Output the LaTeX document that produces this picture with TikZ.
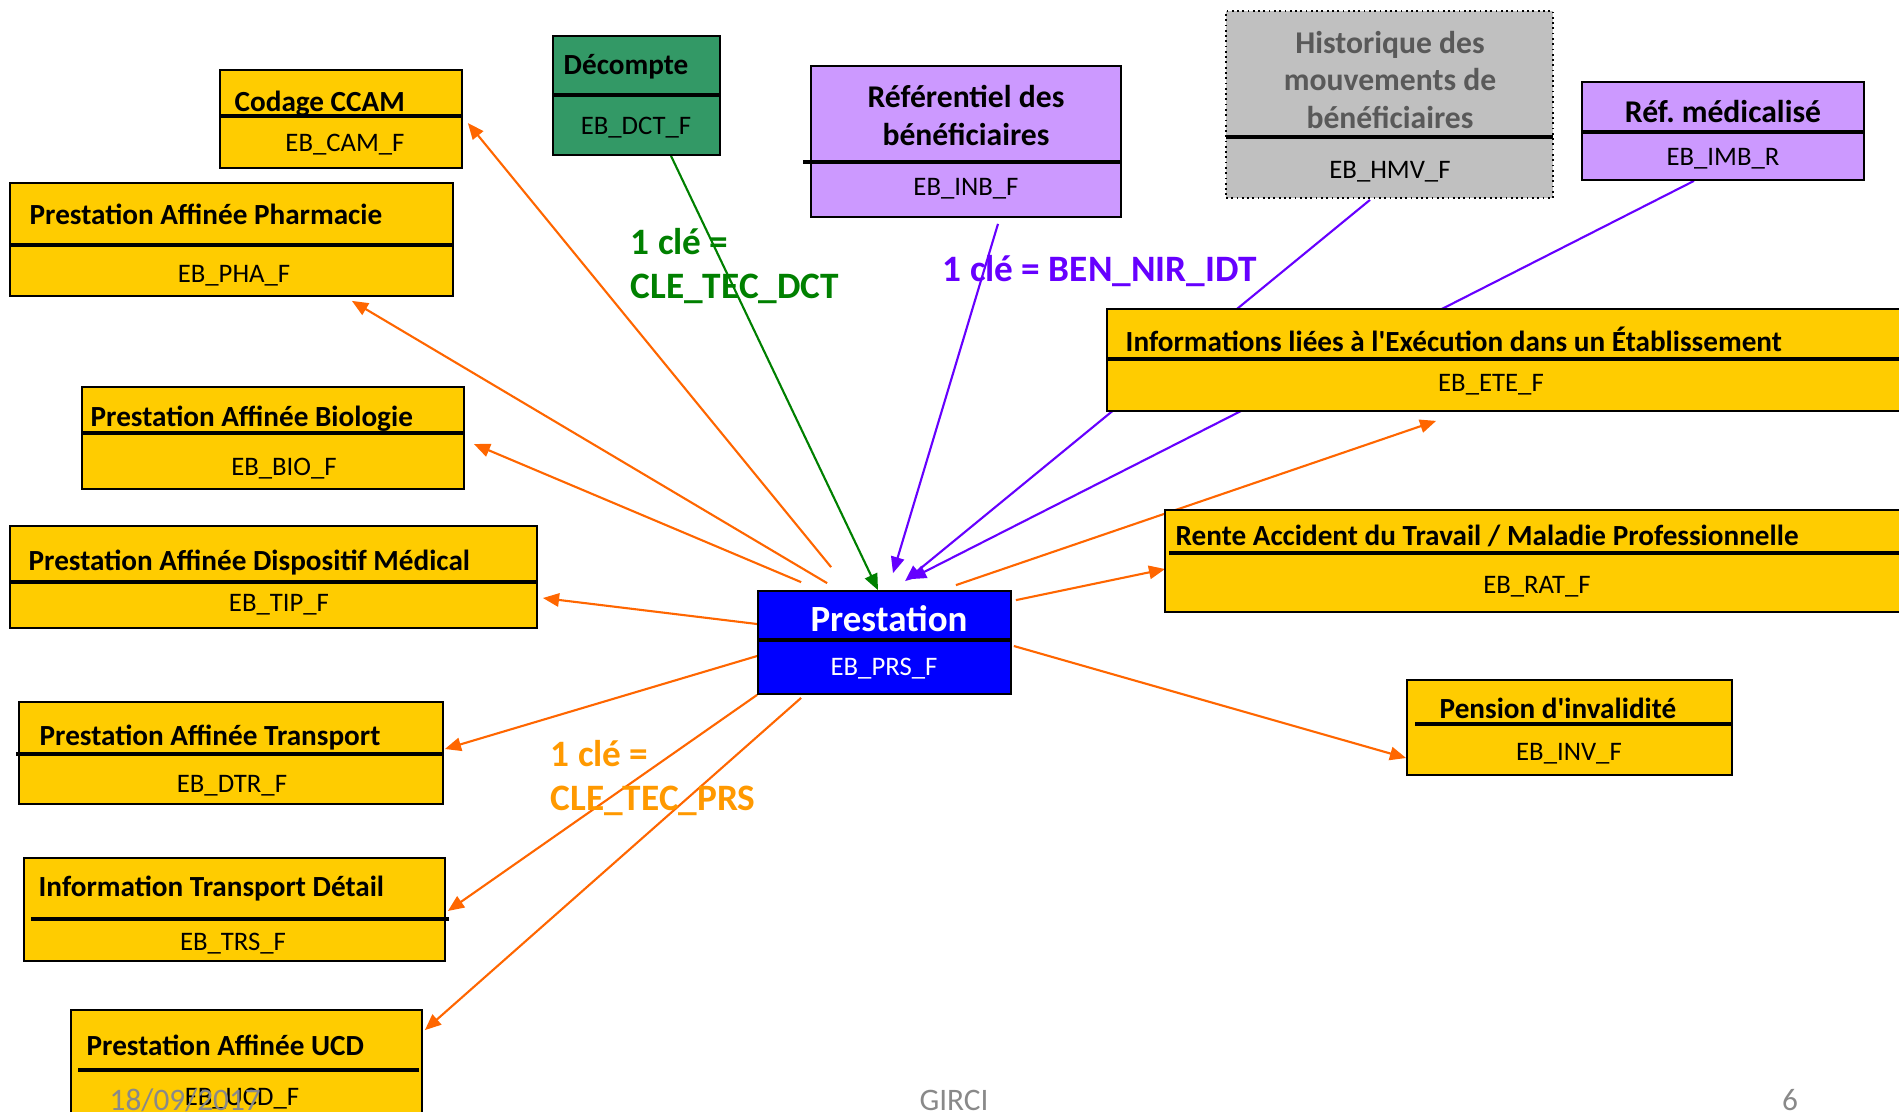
\documentclass[tikz,border=0pt]{standalone}
\usepackage{fontspec}
\setmainfont{Carlito}
\usepackage{tikz}
\usetikzlibrary{arrows.meta, positioning, calc, fit, backgrounds}
\definecolor{boxyellow}{RGB}{255, 204, 0}
\definecolor{boxgreen}{RGB}{51, 153, 102}
\definecolor{boxpurple}{RGB}{204, 153, 255}
\definecolor{boxgrey}{RGB}{192, 192, 192}
\definecolor{boxblue}{RGB}{0, 0, 255}
\definecolor{greytitle}{RGB}{89, 89, 89}
\definecolor{linkorange}{RGB}{255, 102, 0}
\definecolor{keyorange}{RGB}{255, 153, 0}
\definecolor{linkgreen}{RGB}{0, 128, 0}
\definecolor{linkpurple}{RGB}{102, 0, 255}
\definecolor{footgrey}{RGB}{137, 137, 137}

\begin{document}
\begin{tikzpicture}[
    x=0.01cm, y=-0.01cm,
    tbl/.style={draw, line width=0.5pt, inner sep=0pt},
    ybox/.style={tbl, fill=boxyellow},
    gbox/.style={tbl, fill=boxgreen},
    pbox/.style={tbl, fill=boxpurple},
    hbox/.style={tbl, fill=boxgrey, densely dotted},
    bbox/.style={tbl, fill=boxblue},
    split/.style={line width=0.9pt},
    ttl/.style={anchor=west, inner sep=0pt, font=\bfseries\fontsize{8.3}{10}\selectfont, text height=1.5ex, text depth=.25ex},
    ttlc/.style={inner sep=0pt, align=center, font=\bfseries\fontsize{9}{10.8}\selectfont},
    code/.style={inner sep=0pt, font=\fontsize{7.6}{9}\selectfont, text height=1.5ex, text depth=.25ex},
    link/.style={line width=0.6pt, -{Triangle[length=4.6pt, width=3.8pt]}},
    olink/.style={link, draw=linkorange},
    glink/.style={link, draw=linkgreen},
    plink/.style={link, draw=linkpurple},
    key/.style={anchor=west, inner sep=0pt, align=left, font=\bfseries\fontsize{10.6}{12.4}\selectfont},
    foot/.style={inner sep=0pt, text=footgrey, font=\fontsize{8.9}{10}\selectfont}
]
\useasboundingbox (0,0) rectangle (1899,1111);

% tables
\node[ybox, fit={(220,70) (462,168)}] (cam) {};
\draw[split] (220,116) -- (462,116);
\node[ttl] (cam-t) at (234,101) {Codage CCAM};
\node[code] (cam-c) at (345,141) {EB\_CAM\_F};

\node[gbox, fit={(553,36) (720,155)}] (dct) {};
\draw[split] (553,95) -- (720,95);
\node[ttl] (dct-t) at (563,64) {Décompte};
\node[code] (dct-c) at (636,124) {EB\_DCT\_F};

\node[pbox, fit={(811,66) (1121,217)}] (inb) {};
\draw[split] (803,162) -- (1121,162);
\node[ttlc] (inb-t) at (966,115) {Référentiel des\\bénéficiaires};
\node[code] (inb-c) at (966,185) {EB\_INB\_F};

\node[hbox, fit={(1226,11) (1553,198)}] (hmv) {};
\draw[split] (1226,137) -- (1553,137);
\node[ttlc, text=greytitle] (hmv-t) at (1390,80) {Historique des\\mouvements de\\bénéficiaires};
\node[code] (hmv-c) at (1390,168) {EB\_HMV\_F};

\node[pbox, fit={(1582,82) (1864,180)}] (imb) {};
\draw[split] (1582,132) -- (1864,132);
\node[ttlc] (imb-t) at (1723,112) {Réf.\ médicalisé};
\node[code] (imb-c) at (1723,155) {EB\_IMB\_R};

\node[ybox, fit={(10,183) (453,296)}] (pha) {};
\draw[split] (10,245) -- (453,245);
\node[ttl] (pha-t) at (29,214) {Prestation Affinée Pharmacie};
\node[code] (pha-c) at (234,272) {EB\_PHA\_F};

\node[ybox, fit={(1107,309) (1910,411)}] (ete) {};
\draw[split] (1107,359) -- (1910,359);
\node[ttl] (ete-t) at (1125,341) {Informations liées à l\textquotesingle Exécution dans un Établissement};
\node[code] (ete-c) at (1491,381) {EB\_ETE\_F};

\node[ybox, fit={(82,387) (464,489)}] (bio) {};
\draw[split] (82,433) -- (464,433);
\node[ttl] (bio-t) at (90,416) {Prestation Affinée Biologie};
\node[code] (bio-c) at (284,465) {EB\_BIO\_F};

\node[ybox, fit={(10,526) (537,628)}] (tipf) {};
\draw[split] (10,582) -- (537,582);
\node[ttl] (tipf-t) at (28,560) {Prestation Affinée Dispositif Médical};
\node[code] (tipf-c) at (279,601) {EB\_TIP\_F};

\node[ybox, fit={(1165,510) (1910,612)}] (rat) {};
\draw[split] (1169,553) -- (1910,553);
\node[ttl] (rat-t) at (1175,535) {Rente Accident du Travail / Maladie Professionnelle};
\node[code] (rat-c) at (1537,583) {EB\_RAT\_F};

\node[bbox, fit={(758,591) (1011,694)}] (prs) {};
\draw[split] (758,640) -- (1011,640);
\node[ttl, anchor=center, text=white, font=\bfseries\fontsize{10.5}{12}\selectfont] (prs-t) at (889,621) {Prestation};
\node[code, text=white] (prs-c) at (884,665) {EB\_PRS\_F};

\node[ybox, fit={(1407,680) (1732,775)}] (inv) {};
\draw[split] (1415,724) -- (1732,724);
\node[ttl] (inv-t) at (1439,708) {Pension d\textquotesingle invalidité};
\node[code] (inv-c) at (1569,750) {EB\_INV\_F};

\node[ybox, fit={(19,702) (443,804)}] (dtr) {};
\draw[split] (16,754) -- (443,754);
\node[ttl] (dtr-t) at (39,735) {Prestation Affinée Transport};
\node[code] (dtr-c) at (232,782) {EB\_DTR\_F};

\node[ybox, fit={(24,858) (445,961)}] (trs) {};
\draw[split] (31,919) -- (449,919);
\node[ttl] (trs-t) at (38,886) {Information Transport Détail};
\node[code] (trs-c) at (233,940) {EB\_TRS\_F};

\node[ybox, fit={(71,1010) (422,1130)}] (ucd) {};
\draw[split] (78,1070) -- (419,1070);
\node[ttl] (ucd-t) at (86,1045) {Prestation Affinée UCD};
\node[code] (ucd-c) at (242,1095) {EB\_UCD\_F};

% keys
\node[key, text=linkgreen] (k-dct) at (630,266) {1 clé =\\CLE\_TEC\_DCT};
\node[key, text=linkpurple] (k-ben) at (942,271) {1 clé = BEN\_NIR\_IDT};
\node[key, text=keyorange] (k-prs) at (550,778) {1 clé =\\CLE\_TEC\_PRS};

% links
\begin{pgfonlayer}{background}
\draw[olink] ($(prs.north west)+(74,-23)$) -- ($(cam.east)+(5,4)$);
\draw[olink] ($(prs.north west)+(70,-7)$) -- ($(pha.south east)+(-102,4)$);
\draw[olink] ($(prs.north west)+(44,-8)$) -- ($(bio.east)+(9,6)$);
\draw[olink] ($(prs.west)+(0,-18.5)$) -- ($(tipf.east)+(5,21)$);
\draw[olink] ($(prs.west)+(0,13.5)$) -- ($(dtr.east)+(1,-4)$);
\draw[olink] (prs.south west) -- ($(trs.east)+(2,1.5)$);
\draw[olink] ($(prs.south west)+(44,3)$) -- ($(ucd.north east)+(2,21)$);
\draw[olink] ($(prs.north east)+(-56,-5)$) -- ($(ete.south west)+(330,9)$);
\draw[olink] ($(prs.north east)+(4,10)$) -- ($(rat.west)+(1,8)$);
\draw[olink] ($(prs.east)+(2,3.5)$) -- ($(inv.west)+(0,30.5)$);
\draw[glink] ($(dct.south)+(34.5,0)$) -- ($(prs.north)+(-6.5,0)$);
\draw[plink] ($(inb.south)+(32,6)$) -- ($(prs.north)+(8.5,-17)$);
\draw[plink] ($(hmv.south)+(-19.5,1)$) -- ($(prs.north)+(20.5,-9)$);
\draw[plink] ($(imb.south)+(-29,0)$) -- ($(prs.north)+(25.5,-11)$);
\end{pgfonlayer}

% footer
\node[foot, anchor=base west] (date) at (109,1110) {18/09/2017};
\node[foot, anchor=base] (org) at (954,1110) {GIRCI};
\node[foot, anchor=base] (page) at (1790,1110) {6};
\end{tikzpicture}
\end{document}
